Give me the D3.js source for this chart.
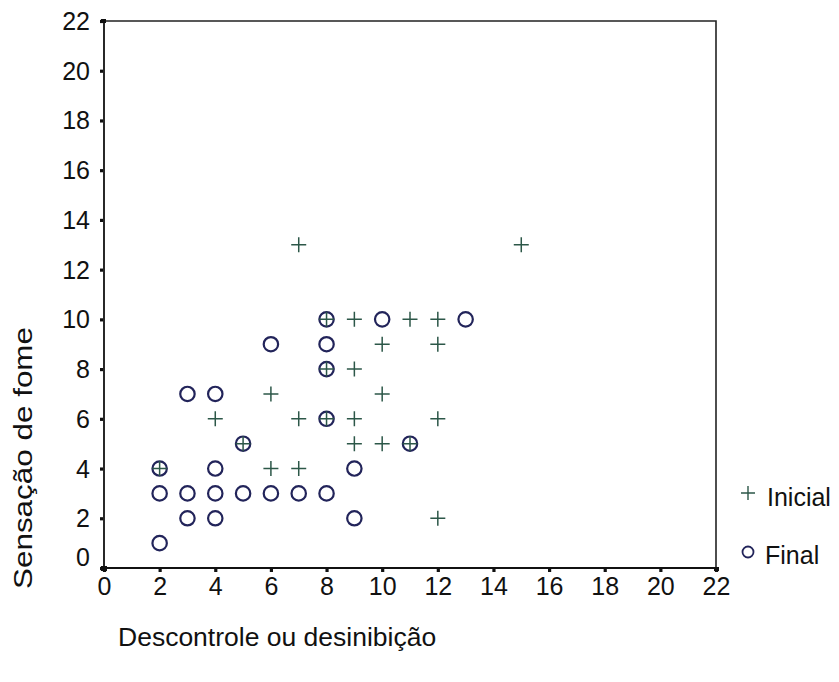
<!DOCTYPE html>
<html>
<head>
<meta charset="utf-8">
<script src="https://cdn.jsdelivr.net/npm/d3@7/dist/d3.min.js"></script>
<style>
  html, body { margin: 0; padding: 0; background: #fff; }
  svg { display: block; }
  text { font-family: "Liberation Sans", Arial, sans-serif; fill: #111; }
</style>
</head>
<body>
<svg id="chart" width="839" height="682"></svg>
<script>
// Descontrole ou desinibição (x) vs Sensação de fome (y)
const inicialX = [7, 15, 8, 9, 11, 12, 10, 12, 8, 9, 6, 10, 4, 7, 8, 9, 12, 5, 9, 10, 11, 2, 6, 7, 12];
const inicialY = [13, 13, 10, 10, 10, 10, 9, 9, 8, 8, 7, 7, 6, 6, 6, 6, 6, 5, 5, 5, 5, 4, 4, 4, 2];

const finalX = [8, 10, 13, 6, 8, 8, 3, 4, 8, 5, 11, 2, 4, 9, 2, 3, 4, 5, 6, 7, 8, 3, 4, 9, 2];
const finalY = [10, 10, 10, 9, 9, 8, 7, 7, 6, 5, 5, 4, 4, 4, 3, 3, 3, 3, 3, 3, 3, 2, 2, 2, 1];

const tickValues = [0, 2, 4, 6, 8, 10, 12, 14, 16, 18, 20, 22];
const seriesNames = ["Inicial", "Final"];
const xTitle = "Descontrole ou desinibição";
const yTitle = "Sensação de fome";

const svg = d3.select("#chart");
const plotLeft = 104, plotRight = 716, plotTop = 21, plotBottom = 568;

const x = d3.scaleLinear().domain([0, 22]).range([plotLeft, plotRight]);
const y = d3.scaleLinear().domain([0, 22]).range([plotBottom, plotTop]);

const plusColor = "#2c5748";
const circleColor = "#22245a";
const labelSize = "25px";

// frame (top and right edges)
svg.append("path")
  .attr("d", `M${plotLeft},${plotTop}H${plotRight}V${plotBottom}`)
  .attr("fill", "none").attr("stroke", "#222").attr("stroke-width", 1.6);

// x axis
const xAxis = svg.append("g").attr("transform", `translate(0,${plotBottom})`)
  .call(d3.axisBottom(x).tickValues(tickValues).tickSize(4).tickPadding(5));
xAxis.select(".domain").attr("stroke", "#111").attr("stroke-width", 1.8).attr("d", `M${plotLeft},0H${plotRight}`);
xAxis.selectAll(".tick line").attr("stroke", "#111").attr("stroke-width", 3.2).attr("y1", 1);
xAxis.selectAll(".tick text").style("font-size", labelSize).attr("fill", "#111");

// y axis
const yAxis = svg.append("g").attr("transform", `translate(${plotLeft},0)`)
  .call(d3.axisLeft(y).tickValues(tickValues).tickSize(4).tickPadding(10));
yAxis.select(".domain").attr("stroke", "#111").attr("stroke-width", 1.8).attr("d", `M0,${plotBottom}V${plotTop}`);
yAxis.selectAll(".tick line").attr("stroke", "#111").attr("stroke-width", 3.2).attr("x1", -1);
yAxis.selectAll(".tick text").style("font-size", labelSize).attr("fill", "#111")
  .attr("dy", d => d === 0 ? "-0.1em" : "0.34em");

// corner marks
svg.append("rect").attr("x", plotLeft - 3).attr("y", plotBottom - 2).attr("width", 6).attr("height", 5).attr("fill", "#111");
svg.append("rect").attr("x", plotLeft - 3).attr("y", plotTop - 2).attr("width", 5).attr("height", 4).attr("fill", "#111");
svg.append("rect").attr("x", plotRight - 2).attr("y", plotBottom - 1).attr("width", 5).attr("height", 4).attr("fill", "#111");

// Final: circles
const finalData = finalX.map((v, i) => ({ x: v, y: finalY[i] }));
svg.append("g").selectAll("circle").data(finalData).join("circle")
  .attr("cx", d => x(d.x)).attr("cy", d => y(d.y)).attr("r", 7.2)
  .attr("fill", "none").attr("stroke", circleColor).attr("stroke-width", 2.2);

// Inicial: plus signs
const inicialData = inicialX.map((v, i) => ({ x: v, y: inicialY[i] }));
const plusSize = 7.5;
svg.append("g").selectAll("path").data(inicialData).join("path")
  .attr("d", d => {
    const cx = x(d.x), cy = y(d.y);
    return `M${cx - plusSize},${cy}H${cx + plusSize}M${cx},${cy - plusSize}V${cy + plusSize}`;
  })
  .attr("fill", "none").attr("stroke", plusColor).attr("stroke-width", 1.5);

// legend
const lg = svg.append("g");
lg.append("path")
  .attr("d", `M${748 - 7},493H${748 + 7}M748,${493 - 7}V${493 + 7}`)
  .attr("stroke", plusColor).attr("stroke-width", 1.4).attr("fill", "none");
lg.append("text").attr("x", 767).attr("y", 506).style("font-size", "25px").text(seriesNames[0]);
lg.append("circle").attr("cx", 748).attr("cy", 552).attr("r", 5.5)
  .attr("fill", "none").attr("stroke", circleColor).attr("stroke-width", 1.8);
lg.append("text").attr("x", 765).attr("y", 564).style("font-size", "25px").text(seriesNames[1]);

// axis titles
svg.append("text").attr("x", 118).attr("y", 646).style("font-size", "26.5px").text(xTitle);
svg.append("text")
  .attr("transform", `translate(32,458) rotate(-90)`)
  .attr("text-anchor", "middle").style("font-size", "26px")
  .attr("textLength", 262).attr("lengthAdjust", "spacingAndGlyphs")
  .text(yTitle);
</script>
</body>
</html>
